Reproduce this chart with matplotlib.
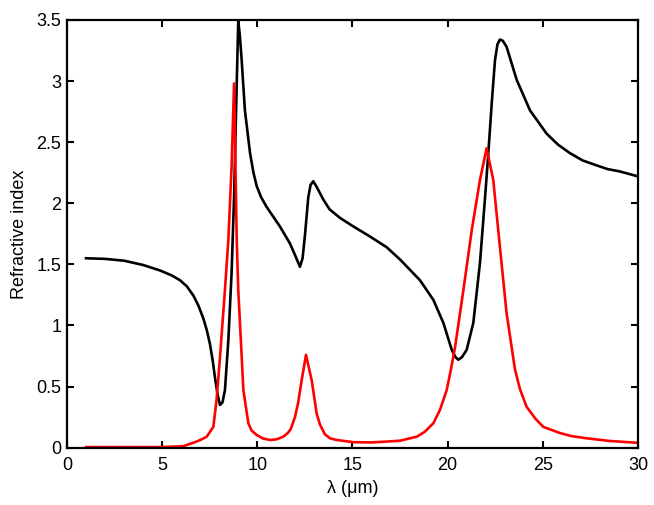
import numpy as np
import matplotlib
matplotlib.use('Agg')
import matplotlib.pyplot as plt

plt.rcParams['font.family'] = ['Liberation Sans', 'DejaVu Sans']

# real part n (black)
n_wl = [1.0, 2.0, 3.0, 4.0, 4.89, 5.5, 5.94, 6.3, 6.64, 6.9, 7.16, 7.35, 7.51, 7.65, 7.78,
        7.92, 8.04, 8.17, 8.30, 8.48, 8.65, 8.78, 8.9, 9.0, 9.08, 9.18, 9.35, 9.62,
        9.8, 9.97, 10.2, 10.49, 11.19, 11.72, 12.0, 12.24, 12.38, 12.5, 12.68, 12.8,
        12.94, 13.1, 13.47, 13.8, 14.35, 15.05, 15.9, 16.8, 17.5, 18.55, 19.25,
        19.78, 20.22, 20.42, 20.56, 20.75, 21.0, 21.35, 21.7, 21.97, 22.14, 22.32,
        22.49, 22.62, 22.75, 22.9, 23.1, 23.63, 24.33, 25.2, 25.8, 26.43, 27.1,
        27.83, 28.4, 29.06, 30.0]
n_val = [1.55, 1.545, 1.53, 1.495, 1.45, 1.41, 1.37, 1.32, 1.245, 1.165, 1.06, 0.96, 0.85, 0.72, 0.57,
         0.43, 0.35, 0.37, 0.47, 0.88, 1.43, 2.05, 2.85, 3.49, 3.38, 3.17, 2.76, 2.41,
         2.25, 2.14, 2.05, 1.97, 1.81, 1.67, 1.57, 1.48, 1.55, 1.73, 2.05, 2.15,
         2.18, 2.14, 2.03, 1.95, 1.88, 1.81, 1.73, 1.64, 1.54, 1.37, 1.21,
         1.02, 0.80, 0.74, 0.72, 0.74, 0.80, 1.02, 1.51, 2.05, 2.41, 2.82,
         3.17, 3.3, 3.34, 3.33, 3.28, 3.01, 2.76, 2.57, 2.48, 2.41, 2.35,
         2.31, 2.28, 2.26, 2.22]

# imaginary part k (red)
k_wl = [1.0, 3.0, 4.89, 6.11, 6.81, 7.1, 7.34, 7.69, 7.86, 8.04, 8.3, 8.48, 8.65, 8.78,
        8.92, 9.0, 9.09, 9.27, 9.53, 9.7, 9.97, 10.3, 10.67, 11.0, 11.37, 11.6, 11.75,
        11.98, 12.15, 12.33, 12.56, 12.86, 13.12, 13.29, 13.55, 13.82, 14.17, 15.05,
        16.0, 16.8, 17.5, 18.38, 18.8, 19.25, 19.6, 19.95, 20.15, 20.4, 20.83, 21.27,
        21.7, 22.05, 22.4, 22.75, 23.1, 23.54, 23.8, 24.15, 24.6, 25.03, 25.9, 26.5,
        27.3, 28.5, 30.0]
k_val = [0.005, 0.005, 0.005, 0.012, 0.05, 0.07, 0.09, 0.17, 0.39, 0.74, 1.29, 1.70, 2.3, 2.98,
         1.70, 1.29, 1.02, 0.47, 0.2, 0.14, 0.104, 0.075, 0.063, 0.068, 0.09, 0.12, 0.15,
         0.25, 0.37, 0.55, 0.76, 0.55, 0.28, 0.19, 0.11, 0.077, 0.063, 0.045,
         0.043, 0.05, 0.057, 0.09, 0.13, 0.2, 0.31, 0.47, 0.62, 0.83, 1.29, 1.78,
         2.19, 2.45, 2.19, 1.64, 1.10, 0.64, 0.48, 0.335, 0.24, 0.17, 0.12, 0.095,
         0.077, 0.055, 0.04]

fig = plt.figure(figsize=(6.54, 5.05), dpi=100)
ax = fig.add_axes([0.1024, 0.1135, 0.873, 0.847])

ax.plot(n_wl, n_val, color='black', lw=1.9)
ax.plot(k_wl, k_val, color='red', lw=1.9)

ax.set_xlim(0, 30)
ax.set_ylim(0, 3.5)
ax.set_xticks([0, 5, 10, 15, 20, 25, 30])
ax.set_yticks([0, 0.5, 1, 1.5, 2, 2.5, 3, 3.5])
ax.set_yticklabels(['0', '0.5', '1', '1.5', '2', '2.5', '3', '3.5'])
ax.tick_params(direction='in', top=True, right=True, length=5, width=1.5,
               labelsize=13, pad=4)
ax.tick_params(axis='x', pad=7)
for s in ax.spines.values():
    s.set_linewidth(1.6)

ax.set_xlabel('λ (μm)', fontsize=13, labelpad=4)
ax.set_ylabel('Refractive index', fontsize=13, labelpad=6)

fig.savefig('out.png', dpi=100)
